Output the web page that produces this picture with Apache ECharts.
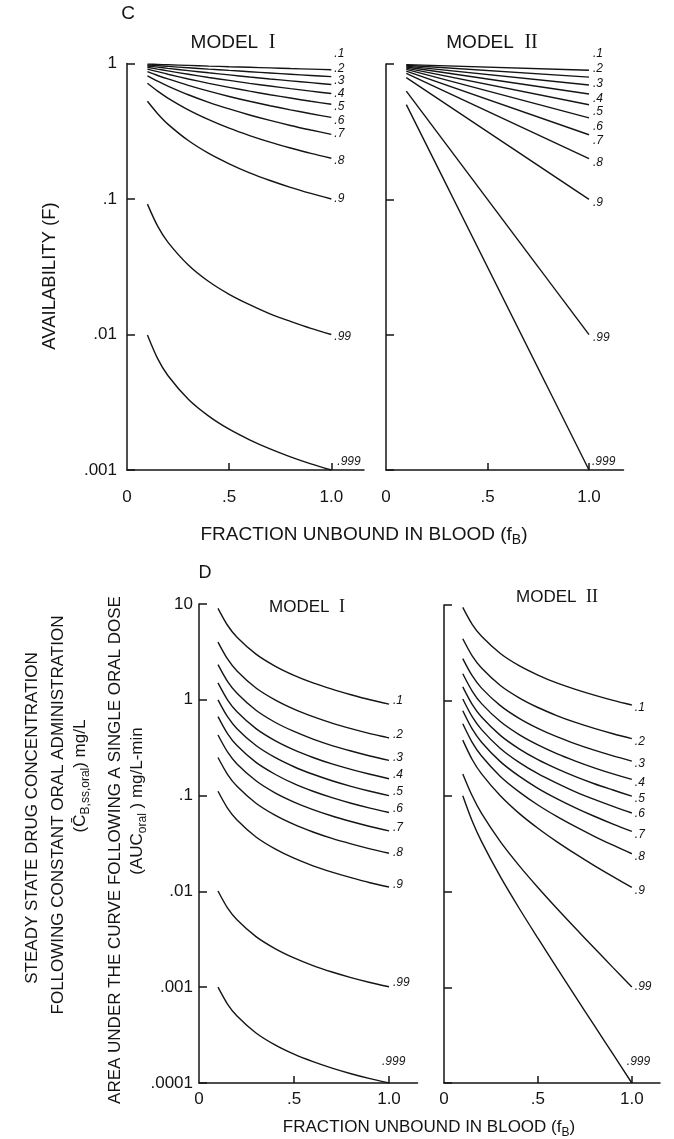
<!DOCTYPE html>
<html>
<head>
<meta charset="utf-8">
<script src="https://cdn.jsdelivr.net/npm/echarts@6/dist/echarts.min.js"></script>
<style>
  html, body { margin: 0; padding: 0; background: #ffffff; }
  #chart { width: 674px; height: 1139px; }
</style>
</head>
<body>
<div id="chart"></div>
<script>
// Hepatic extraction ratio (E) that labels each curve
const extractionLabels = ['.1', '.2', '.3', '.4', '.5', '.6', '.7', '.8', '.9', '.99', '.999'];

// Fraction unbound in blood (fB) sample points
const fbGrid = [0.1, 0.15, 0.2, 0.3, 0.4, 0.5, 0.6, 0.7, 0.8, 0.9, 1.0];
const fbEnds = [0.1, 1.0];

// Panel C, Model I: availability F at each fbGrid point
const availModelI = [
  [0.989, 0.984, 0.978, 0.968, 0.957, 0.947, 0.938, 0.928, 0.918, 0.909, 0.900],
  [0.976, 0.964, 0.952, 0.930, 0.909, 0.889, 0.870, 0.851, 0.833, 0.816, 0.800],
  [0.959, 0.940, 0.921, 0.886, 0.854, 0.824, 0.795, 0.769, 0.745, 0.722, 0.700],
  [0.938, 0.909, 0.882, 0.833, 0.789, 0.750, 0.714, 0.682, 0.652, 0.625, 0.600],
  [0.909, 0.870, 0.833, 0.769, 0.714, 0.667, 0.625, 0.588, 0.556, 0.526, 0.500],
  [0.870, 0.816, 0.769, 0.690, 0.625, 0.571, 0.526, 0.488, 0.455, 0.426, 0.400],
  [0.811, 0.741, 0.682, 0.588, 0.517, 0.462, 0.417, 0.380, 0.349, 0.323, 0.300],
  [0.714, 0.625, 0.556, 0.455, 0.385, 0.333, 0.294, 0.263, 0.238, 0.217, 0.200],
  [0.526, 0.426, 0.357, 0.270, 0.217, 0.182, 0.156, 0.137, 0.122, 0.110, 0.100],
  [0.0917, 0.0631, 0.0481, 0.0326, 0.0246, 0.0198, 0.0166, 0.0142, 0.0125, 0.0111, 0.0100],
  [0.00991, 0.00663, 0.00498, 0.00333, 0.00250, 0.00200, 0.00167, 0.00143, 0.00125, 0.00111, 0.00100]
];

// Panel C, Model II: straight lines on the log scale, F at fB = 0.1 and 1.0
const availModelII = [
  [0.990, 0.900], [0.978, 0.800], [0.965, 0.700], [0.950, 0.600], [0.933, 0.500],
  [0.912, 0.400], [0.887, 0.300], [0.851, 0.200], [0.794, 0.100], [0.631, 0.0100],
  [0.501, 0.00100]
];

// Panel D, Model I: AUC (oral) at each fbGrid point
const aucModelI = [
  [9.0, 6.0, 4.5, 3.0, 2.25, 1.8, 1.5, 1.29, 1.13, 1.0, 0.90],
  [4.0, 2.67, 2.0, 1.33, 1.0, 0.80, 0.667, 0.571, 0.50, 0.444, 0.40],
  [2.33, 1.56, 1.17, 0.778, 0.583, 0.467, 0.389, 0.333, 0.292, 0.259, 0.233],
  [1.5, 1.0, 0.75, 0.50, 0.375, 0.30, 0.25, 0.214, 0.188, 0.167, 0.15],
  [1.0, 0.667, 0.50, 0.333, 0.25, 0.20, 0.167, 0.143, 0.125, 0.111, 0.10],
  [0.667, 0.444, 0.333, 0.222, 0.167, 0.133, 0.111, 0.0952, 0.0833, 0.0741, 0.0667],
  [0.429, 0.286, 0.214, 0.143, 0.107, 0.0857, 0.0714, 0.0612, 0.0536, 0.0476, 0.0429],
  [0.25, 0.167, 0.125, 0.0833, 0.0625, 0.05, 0.0417, 0.0357, 0.0313, 0.0278, 0.025],
  [0.111, 0.0741, 0.0556, 0.0370, 0.0278, 0.0222, 0.0185, 0.0159, 0.0139, 0.0123, 0.0111],
  [0.0101, 0.00673, 0.00505, 0.00337, 0.00253, 0.00202, 0.00168, 0.00144, 0.00126, 0.00112, 0.00101],
  [0.00100, 0.000667, 0.000500, 0.000333, 0.000250, 0.000200, 0.000167, 0.000143, 0.000125, 0.000111, 0.000100]
];

// Panel D, Model II: AUC (oral) at each fbGrid point
const aucModelII = [
  [9.44, 6.28, 4.70, 3.11, 2.32, 1.85, 1.53, 1.31, 1.14, 1.005, 0.900],
  [4.43, 2.94, 2.19, 1.44, 1.07, 0.847, 0.698, 0.591, 0.512, 0.450, 0.400],
  [2.75, 1.82, 1.35, 0.886, 0.652, 0.512, 0.419, 0.353, 0.303, 0.264, 0.233],
  [1.91, 1.26, 0.930, 0.604, 0.441, 0.344, 0.279, 0.233, 0.198, 0.171, 0.150],
  [1.39, 0.913, 0.673, 0.433, 0.313, 0.241, 0.194, 0.160, 0.135, 0.116, 0.100],
  [1.04, 0.679, 0.497, 0.316, 0.226, 0.172, 0.137, 0.111, 0.0925, 0.0781, 0.0667],
  [0.782, 0.505, 0.367, 0.230, 0.162, 0.121, 0.0944, 0.0756, 0.0617, 0.0511, 0.0429],
  [0.573, 0.366, 0.263, 0.161, 0.111, 0.0809, 0.0615, 0.0480, 0.0381, 0.0307, 0.0250],
  [0.386, 0.242, 0.171, 0.101, 0.0661, 0.0462, 0.0335, 0.0249, 0.0188, 0.0144, 0.0111],
  [0.171, 0.101, 0.0661, 0.0335, 0.0188, 0.0111, 0.00673, 0.00415, 0.00258, 0.00161, 0.00101],
  [0.101, 0.0550, 0.0335, 0.0144, 0.00673, 0.00327, 0.00161, 0.000801, 0.000400, 0.000200, 0.000100]
];

// Tick label text
const fbTickValues = [0, 0.5, 1];
const fbTickText = ['0', '.5', '1.0'];
const decadeTickText = { '1': '10', '0': '1', '-1': '.1', '-2': '.01', '-3': '.001', '-4': '.0001' };

// ---- drawing ----
const INK = '#141414';
const SANS = '"Liberation Sans", Arial, Helvetica, sans-serif';
const SERIF = '"Liberation Serif", "DejaVu Serif", serif';

// Per-panel layout and curve-label placement (pixel nudges from each curve end)
const panels = [
  { grid: { left: 127, top: 63.5, width: 237, height: 406.5 }, xMax: 1.16, yMin: 0.001, yMax: 1,
    xs: fbGrid, ys: availModelI, smooth: 0.3, showY: true, xMargin: 19, yMargin: 10,
    dx: [3, 3, 3, 3, 3, 3, 3, 3, 3, 3, 6], dy: [-16, -8, -4, 0, 2, 3, -1, 2, 0, 2, -8] },
  { grid: { left: 386, top: 64, width: 237.5, height: 406 }, xMax: 1.17, yMin: 0.001, yMax: 1,
    xs: fbEnds, ys: availModelII, smooth: false, showY: false, xMargin: 19, yMargin: 10,
    dx: [4, 4, 4, 4, 4, 4, 4, 4, 4, 4, 3], dy: [-17, -8, -1, 5, 7, 9, 6, 4, 3, 3, -8] },
  { grid: { left: 199, top: 604, width: 218.5, height: 479 }, xMax: 1.15, yMin: 0.0001, yMax: 10,
    xs: fbGrid, ys: aucModelI, smooth: 0.3, showY: true, xMargin: 8, yMargin: 6,
    dx: [4, 4, 4, 4, 4, 4, 4, 4, 4, 4, -7], dy: [-4, -3, -3, -4, -4, -4, -3, -1, -2, -4, -21] },
  { grid: { left: 444, top: 605, width: 216, height: 478 }, xMax: 1.15, yMin: 0.0001, yMax: 10,
    xs: fbGrid, ys: aucModelII, smooth: 0.3, showY: false, xMargin: 8, yMargin: 6,
    dx: [3, 3, 3, 3, 3, 3, 3, 3, 3, 3, -5], dy: [3, 3, 3, 3, 2, 1, 3, 3, 3, 0, -21] }
];

const axisLineStyle = { color: INK, width: 1.5 };

const grids = [], xAxes = [], yAxes = [], series = [];
panels.forEach((p, pi) => {
  grids.push(Object.assign({ containLabel: false }, p.grid));
  xAxes.push({
    type: 'value', gridIndex: pi, min: 0, max: p.xMax, interval: 0.5,
    axisLine: { onZero: false, lineStyle: axisLineStyle },
    axisTick: { show: true, inside: true, length: 7, customValues: [0.5, 1], lineStyle: axisLineStyle },
    axisLabel: {
      show: true, customValues: fbTickValues, margin: p.xMargin,
      fontSize: 17, fontFamily: SANS, color: INK,
      formatter: v => fbTickText[fbTickValues.indexOf(Math.round(v * 10) / 10)] || ''
    },
    splitLine: { show: false }
  });
  yAxes.push({
    type: 'log', logBase: 10, gridIndex: pi, min: p.yMin, max: p.yMax,
    axisLine: { lineStyle: axisLineStyle },
    axisTick: { show: true, inside: true, length: 8, lineStyle: axisLineStyle },
    axisLabel: {
      show: p.showY, margin: p.yMargin, fontSize: 17, fontFamily: SANS, color: INK,
      formatter: v => decadeTickText[String(Math.round(Math.log10(v)))] || ''
    },
    minorTick: { show: false },
    splitLine: { show: false }
  });
  extractionLabels.forEach((lbl, si) => {
    const vals = p.ys[si];
    const data = p.xs.map((x, k) => {
      if (k < p.xs.length - 1) return [x, vals[k]];
      return {
        value: [x, vals[k]],
        label: {
          show: true, position: 'right', distance: 0,
          offset: [p.dx[si], p.dy[si]],
          formatter: lbl, fontStyle: 'italic', fontSize: 12, fontFamily: SANS, color: INK
        }
      };
    });
    series.push({
      type: 'line', name: lbl, xAxisIndex: pi, yAxisIndex: pi, data,
      smooth: p.smooth,
      symbol: 'circle', symbolSize: 0, showSymbol: true,
      lineStyle: { color: INK, width: 1.4 }, itemStyle: { color: INK },
      label: { show: false }, silent: true, clip: false,
      emphasis: { disabled: true }
    });
  });
});

function txt(x, y, text, size, extra) {
  return {
    type: 'text', x, y, silent: true,
    style: Object.assign({
      text, fill: INK, fontSize: size, fontFamily: SANS,
      align: 'center', verticalAlign: 'middle',
      textAlign: 'center', textVerticalAlign: 'middle'
    }, extra || {})
  };
}
function vtxt(x, y, text, size, rich) {
  const el = txt(x, y, text, size, rich ? { rich } : null);
  el.rotation = Math.PI / 2;
  return el;
}

const modelRich = (size) => ({
  m: { fontSize: size, fontFamily: SANS, fill: INK, color: INK },
  r: { fontSize: size + 1, fontFamily: SERIF, fill: INK, color: INK }
});
const subRich = (size) => ({
  n: { fontSize: size, fontFamily: SANS, lineHeight: size + 6, fill: INK, color: INK },
  s: { fontSize: size - 5, fontFamily: SANS, lineHeight: size - 6, verticalAlign: 'bottom', fill: INK, color: INK }
});

const graphics = [
  txt(128, 14, 'C', 19),
  txt(233, 43, '{m|MODEL}  {r|I}', 19, { rich: modelRich(19) }),
  txt(492, 43, '{m|MODEL}  {r|II}', 19, { rich: modelRich(19) }),
  txt(364, 535, '{n|FRACTION UNBOUND IN BLOOD (f}{s|B}{n|)}', 19, { rich: subRich(19) }),
  vtxt(50, 276, 'AVAILABILITY (F)', 18.5),
  txt(205, 573, 'D', 18),
  txt(307, 607, '{m|MODEL}  {r|I}', 17, { rich: modelRich(17) }),
  txt(557, 597, '{m|MODEL}  {r|II}', 17, { rich: modelRich(17) }),
  txt(429, 1127, '{n|FRACTION UNBOUND IN BLOOD (f}{s|B}{n|)}', 17, { rich: subRich(17) }),
  vtxt(32, 818, 'STEADY STATE DRUG CONCENTRATION', 17),
  vtxt(58, 815, 'FOLLOWING CONSTANT ORAL ADMINISTRATION', 17),
  vtxt(80, 776, '{n|(C\u0304}{s|B,ss,oral}{n|) mg/L}', 17, subRich(17)),
  vtxt(115, 850, 'AREA UNDER THE CURVE FOLLOWING A SINGLE ORAL DOSE', 17),
  vtxt(137, 801, '{n|(AUC}{s|oral}{n| ) mg/L-min}', 17, subRich(17))
];

const chart = echarts.init(document.getElementById('chart'), null, { renderer: 'canvas' });
chart.setOption({
  animation: false,
  backgroundColor: '#ffffff',
  textStyle: { fontFamily: SANS, color: INK },
  grid: grids,
  xAxis: xAxes,
  yAxis: yAxes,
  series,
  graphic: { elements: graphics }
});
</script>
</body>
</html>
